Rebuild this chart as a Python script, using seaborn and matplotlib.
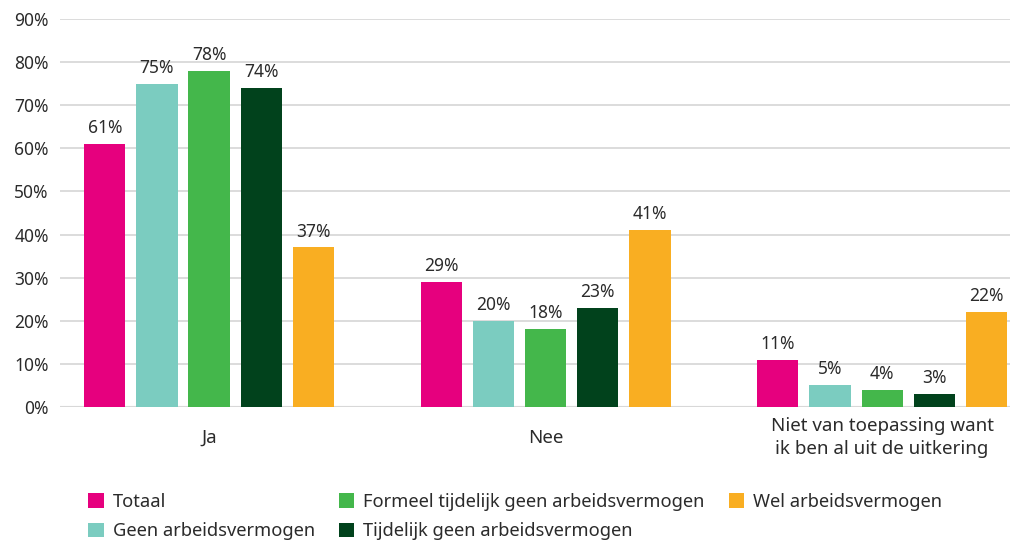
import matplotlib
matplotlib.use("Agg")
import matplotlib.pyplot as plt
import seaborn as sns
import pandas as pd
from matplotlib.ticker import FuncFormatter

# Survey answers per group (percentages)
categories = ["Ja", "Nee", "Niet van toepassing want\nik ben al uit de uitkering"]
groups = [
    "Totaal",
    "Geen arbeidsvermogen",
    "Formeel tijdelijk geen arbeidsvermogen",
    "Tijdelijk geen arbeidsvermogen",
    "Wel arbeidsvermogen",
]
totaal = [61, 29, 11]
geen = [75, 20, 5]
formeel = [78, 18, 4]
tijdelijk = [74, 23, 3]
wel = [37, 41, 22]
colors = ["#E6007E", "#7BCCC0", "#44B74B", "#01421C", "#F9AE22"]
yticks = [0, 10, 20, 30, 40, 50, 60, 70, 80, 90]

series = [totaal, geen, formeel, tijdelijk, wel]
rows = []
for g, vals in zip(groups, series):
    for c, v in zip(categories, vals):
        rows.append({"categorie": c, "groep": g, "waarde": v})
df = pd.DataFrame(rows)

sns.set_theme(style="white")
plt.rcParams["font.family"] = ["Noto Sans", "DejaVu Sans"]
text_color = "#2b2b2b"

fig = plt.figure(figsize=(10.1, 5.4), dpi=100)
ax = fig.add_axes([60 / 1010, 1 - 407 / 540, 950 / 1010, (407 - 19) / 540])

sns.barplot(
    data=df, x="categorie", y="waarde", hue="groep",
    order=categories, hue_order=groups, palette=colors,
    width=0.775, gap=0.21, saturation=1, ax=ax, legend=True,
    edgecolor="none", linewidth=0,
)

for cont, vals in zip(ax.containers, series):
    ax.bar_label(cont, labels=[f"{v}%" for v in vals], padding=5,
                 fontsize=12.5, color=text_color)

ax.set_ylim(0, 90)
ax.set_xlim(-0.443, 2.38)
ax.set_yticks(yticks)
ax.yaxis.set_major_formatter(FuncFormatter(lambda v, p: f"{v:.0f}%"))
ax.grid(axis="y", color="#d9d9d9", linewidth=1.3)
ax.set_axisbelow(True)
for s in ax.spines.values():
    s.set_visible(False)
ax.axhline(0, color="#cfcfcf", linewidth=1.5, zorder=0.5)
ax.set_xlabel("")
ax.set_ylabel("")
ax.tick_params(axis="y", length=0, pad=8, labelsize=12.5, labelcolor=text_color)
ax.tick_params(axis="x", length=0, pad=22, labelsize=13.5, labelcolor=text_color)
for lbl in ax.get_xticklabels():
    lbl.set_verticalalignment("center")
    lbl.set_multialignment("center")
    lbl.set_linespacing(1.35)

handles, labels = ax.get_legend_handles_labels()
ax.get_legend().remove()
fig.legend(
    handles, labels, ncol=3, loc="upper left",
    bbox_to_anchor=(88 / 1010, 1 - 493 / 540), frameon=False,
    fontsize=13.2, handlelength=0.85, handleheight=0.85, handletextpad=0.5,
    columnspacing=1.3, labelspacing=0.62, borderaxespad=0, borderpad=0,
    labelcolor=text_color,
)

fig.savefig("out.png", dpi=100)
